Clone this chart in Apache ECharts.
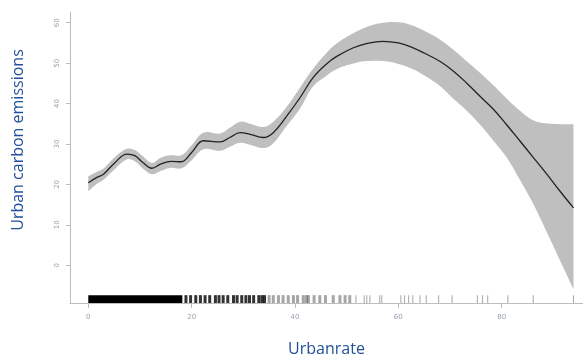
<!DOCTYPE html>
<html>
<head>
<meta charset="utf-8">
<script src="https://cdn.jsdelivr.net/npm/echarts@6/dist/echarts.min.js"></script>
<style>
  html, body { margin: 0; padding: 0; background: #ffffff; }
  #chart { width: 583px; height: 362px; }
</style>
</head>
<body>
<div id="chart"></div>
<script>
// smooth fit of urban carbon emissions against urbanrate, with confidence band
const xs = [0, 1.5, 3, 5, 7.5, 9, 10.5, 12.3, 14, 16, 18, 20, 22.3, 25.5, 27.4, 29.4, 31.3, 33.9, 35.8, 38.4,
  41, 43.5, 46.1, 48, 51.3, 54, 57.1, 60, 62.3, 65, 68.1, 70.5, 73.2, 75.8, 78.4, 81, 83.5, 86.1, 88.7, 91.3, 93.9];
const fit = [20.4, 21.6, 22.6, 25.2, 27.5, 27.1, 25.5, 24.0, 25.0, 25.7, 25.6, 27.9, 30.8, 30.5, 31.6, 32.8, 32.4, 31.6, 32.8, 36.9,
  41.5, 46.4, 49.8, 51.6, 53.8, 54.9, 55.4, 55.0, 54.1, 52.5, 50.4, 48.2, 45.1, 41.8, 38.6, 34.7, 30.8, 26.7, 22.6, 18.3, 14.2];
const upper = [22.0, 23.0, 24.0, 26.6, 28.8, 28.5, 27.0, 25.3, 26.6, 27.2, 27.2, 29.7, 32.8, 32.6, 34.0, 35.5, 35.0, 34.2, 35.5, 39.2,
  44.0, 48.6, 52.5, 54.8, 57.4, 59.0, 60.0, 60.1, 59.5, 58.0, 55.8, 53.5, 50.5, 47.6, 44.5, 41.2, 38.3, 35.9, 35.1, 34.9, 34.9];
const lower = [18.3, 20.0, 21.2, 23.6, 26.2, 25.7, 24.0, 22.5, 23.3, 24.1, 24.0, 26.0, 28.7, 28.3, 29.3, 30.3, 29.8, 29.0, 30.2, 34.5,
  38.8, 44.2, 46.9, 48.5, 49.9, 50.5, 50.5, 49.8, 48.8, 47.0, 44.3, 41.4, 38.3, 34.8, 30.8, 26.6, 21.2, 15.2, 8.3, 1.2, -5.9];

// rug of observed urbanrate values
const rugSolid = [0, 18.2];
const rugDense = [18.9, 19.8, 20.8, 21.7, 22.6, 23.5, 24.6, 25.3, 26.1, 27.0, 28.1, 28.8, 29.7, 30.5, 31.2, 32.0, 33.0, 33.6, 34.1];
const rugMid = [35.0, 35.8, 36.8, 37.7, 38.7, 39.7, 40.5, 41.6, 42.2, 42.6, 43.7, 44.8, 45.9, 47.4, 48.7, 49.7, 50.6];
const rugSparse = [51.8, 53.4, 53.9, 54.5, 56.4, 56.8, 60.5, 61.2, 62.0, 62.8, 64.2, 65.4, 67.8, 70.4, 75.3, 76.3, 77.3, 81.2, 86.1, 93.9];

const xTicks = [0, 20, 40, 60, 80];
const yTicks = [0, 10, 20, 30, 40, 50, 60];

const X_MIN = -3.54, X_MAX = 95.74;
const Y_MIN = -9.34, Y_MAX = 62.65;
const RUG_TOP = -7.4;

const chart = echarts.init(document.getElementById('chart'));

const axisGrey = '#bdbdbd';
const labelGrey = '#9aa3ae';
const nameBlue = '#1f4f98';

const rugItems = [];
rugItems.push({ kind: 'solid', a: rugSolid[0], b: rugSolid[1] });
rugDense.forEach((v) => rugItems.push({ kind: 'dense', a: v }));
rugMid.forEach((v) => rugItems.push({ kind: 'mid', a: v }));
rugSparse.forEach((v) => rugItems.push({ kind: 'sparse', a: v }));

const option = {
  animation: false,
  grid: { left: 70, right: 0, top: 12, bottom: 57 },
  // y title sits above the axis centre in the original, so place it by hand
  graphic: [
    {
      type: 'text',
      x: 18,
      y: 140,
      rotation: Math.PI / 2,
      style: {
        text: 'Urban carbon emissions',
        fill: nameBlue,
        font: '16px "Open Sans"',
        align: 'center',
        verticalAlign: 'middle',
      },
    },
  ],
  xAxis: {
    type: 'value',
    min: X_MIN,
    max: X_MAX,
    name: 'Urbanrate',
    nameLocation: 'middle',
    nameGap: 38,
    nameTextStyle: { color: nameBlue, fontSize: 16, fontFamily: 'Open Sans' },
    axisLine: { show: true, onZero: false, lineStyle: { color: axisGrey, width: 1 } },
    axisTick: { show: true, length: 5, customValues: xTicks, lineStyle: { color: axisGrey } },
    axisLabel: { customValues: xTicks, margin: 11, fontSize: 7, color: labelGrey, fontFamily: 'DejaVu Sans' },
    splitLine: { show: false },
  },
  yAxis: {
    type: 'value',
    min: Y_MIN,
    max: Y_MAX,
    axisLine: { show: true, onZero: false, lineStyle: { color: axisGrey, width: 1 } },
    axisTick: { show: true, length: 4, customValues: yTicks, lineStyle: { color: axisGrey } },
    axisLabel: { customValues: yTicks, rotate: 90, margin: 9, fontSize: 7, color: labelGrey, fontFamily: 'DejaVu Sans' },
    splitLine: { show: false },
  },
  series: [
    {
      // confidence band; corner points doubled so the end edges stay straight
      type: 'custom',
      z: 1,
      data: [0],
      renderItem: (params, api) => {
        const n = xs.length;
        const pts = [];
        for (let i = 0; i < n; i++) pts.push(api.coord([xs[i], upper[i]]));
        pts.push(api.coord([xs[n - 1], upper[n - 1]]));
        pts.push(api.coord([xs[n - 1], lower[n - 1]]));
        for (let i = n - 1; i >= 0; i--) pts.push(api.coord([xs[i], lower[i]]));
        pts.push(api.coord([xs[0], lower[0]]));
        pts.push(api.coord([xs[0], upper[0]]));
        return {
          type: 'polygon',
          shape: { points: pts, smooth: 0.4 },
          style: { fill: '#bfbfbf', stroke: null },
        };
      },
    },
    {
      type: 'line',
      z: 2,
      data: xs.map((x, i) => [x, fit[i]]),
      smooth: 0.4,
      symbol: 'none',
      lineStyle: { color: '#222222', width: 1.3 },
    },
    {
      // rug marks along the x axis
      type: 'custom',
      z: 3,
      data: rugItems.map((_, i) => i),
      renderItem: (params, api) => {
        const it = rugItems[params.dataIndex];
        const bottom = api.coord([it.a, Y_MIN]);
        const top = api.coord([it.a, RUG_TOP]);
        const h = bottom[1] - top[1];
        if (it.kind === 'solid') {
          const right = api.coord([it.b, Y_MIN]);
          return { type: 'rect', shape: { x: bottom[0], y: top[1], width: right[0] - bottom[0], height: h }, style: { fill: '#000000' } };
        }
        const w = it.kind === 'sparse' ? 1 : 3;
        const fill = it.kind === 'dense' ? 'rgba(0,0,0,0.8)' : 'rgba(0,0,0,0.35)';
        return { type: 'rect', shape: { x: bottom[0] - w / 2, y: top[1], width: w, height: h }, style: { fill: fill } };
      },
    },
  ],
};

chart.setOption(option);
</script>
</body>
</html>
